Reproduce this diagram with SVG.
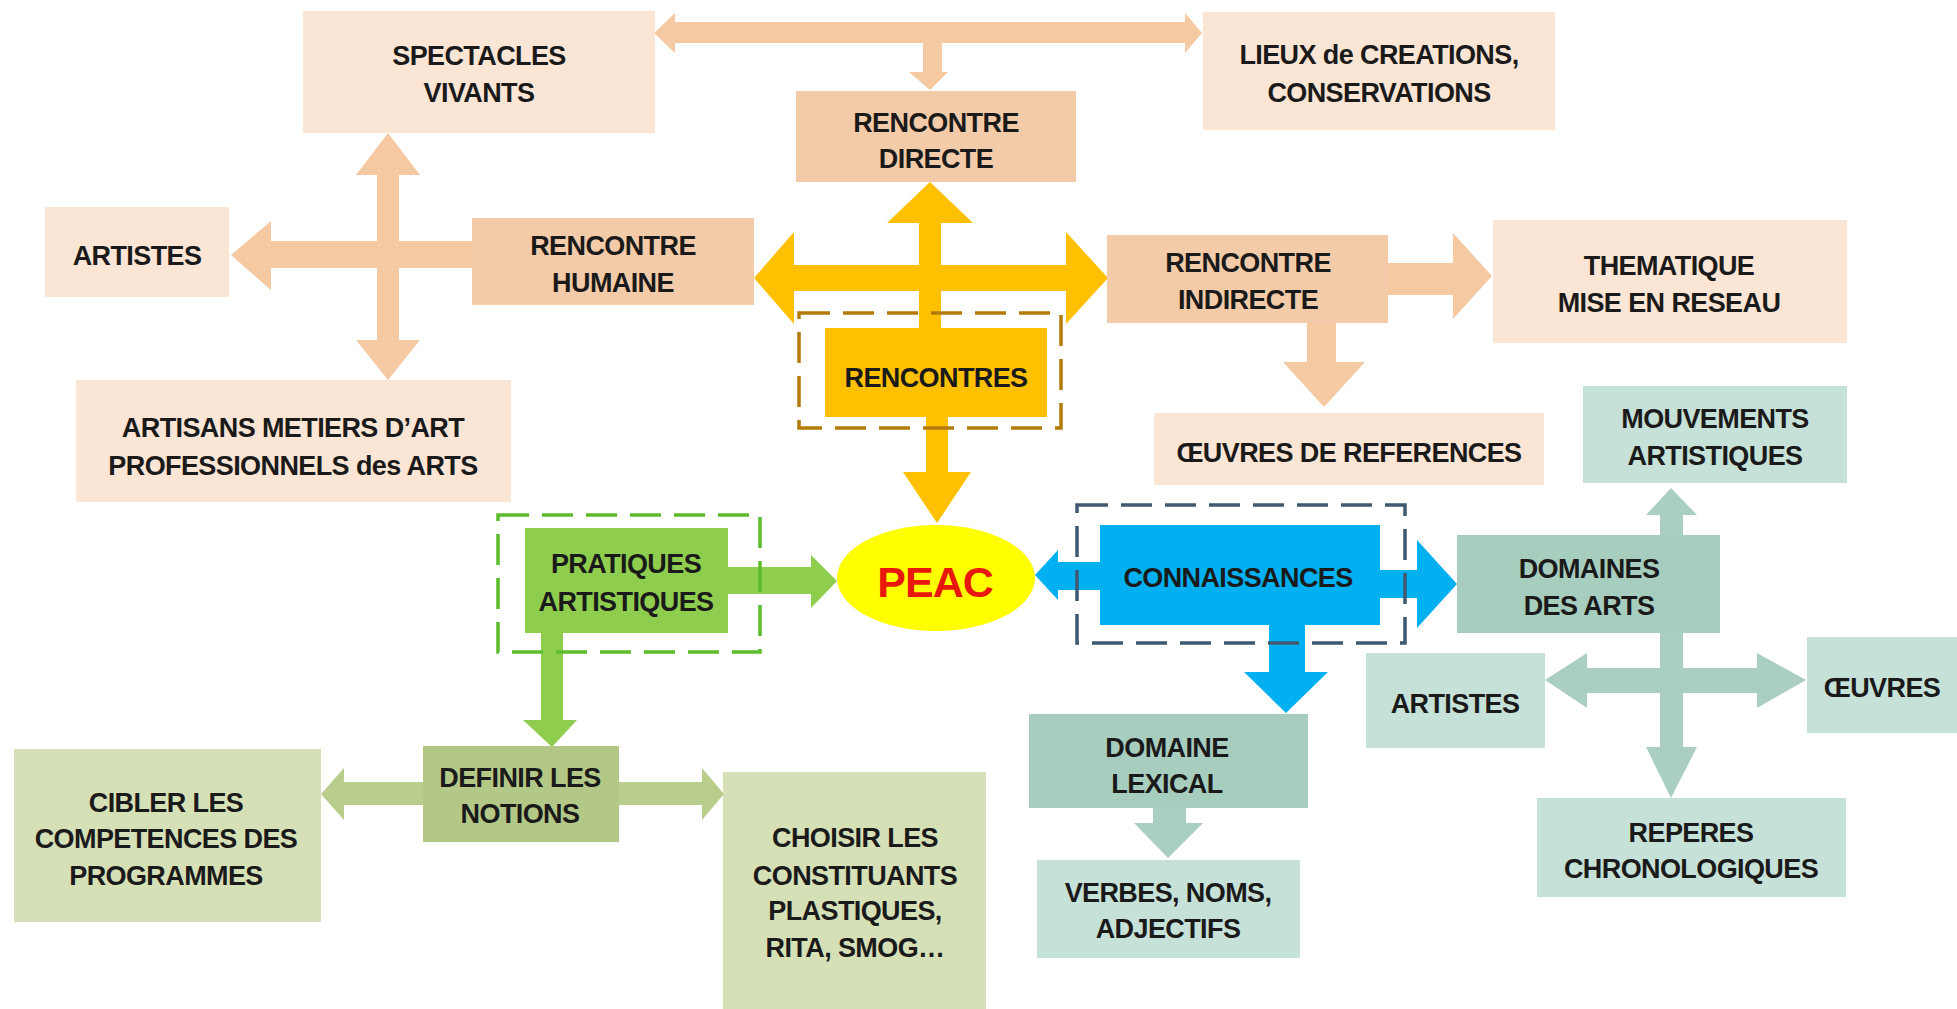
<svg xmlns="http://www.w3.org/2000/svg" width="1957" height="1009" viewBox="0 0 1957 1009">
<style>
.t{font-family:"Liberation Sans",Arial,sans-serif;font-weight:bold;font-size:27px;letter-spacing:-0.6px;text-anchor:middle;fill:#1a1a1a}
.pk{fill:#FBE5D4}.pd{fill:#F4CBA8}.pa{fill:#F5C9A1}
.yo{fill:#FFC000}
.gr{fill:#8FCD4E}.ol{fill:#B3C886}.oa{fill:#B9CD8C}.ll{fill:#D6E0B7}
.tl{fill:#A7CDBF}.tt{fill:#C6E1D7}.ta{fill:#AACFC2}
.bl{fill:#00B0F0}
.dash{fill:none;stroke-width:3.5;stroke-dasharray:31 13}
</style>
<rect width="1957" height="1009" fill="#ffffff"/>
<g id="connectors">
<polygon class="pa" points="654,33 675,13 675,22 1185,22 1185,13 1202,33 1185,53 1185,43 675,43 675,53"/>
<polygon class="pa" points="923,42 942,42 942,72 948,72 930,90 909,72 923,72"/>
<polygon class="pa" points="388,133 420,175 399,175 399,340 420,340 388,380 356,340 377,340 377,175 356,175"/>
<polygon class="pa" points="231,255 271,221 271,241 474,241 474,268 271,268 271,290"/>
<polygon class="pa" points="1386,263 1453,263 1453,233 1492,276 1453,319 1453,295 1386,295"/>
<polygon class="pa" points="1307,321 1336,321 1336,362 1365,362 1324,407 1283,362 1307,362"/>
<polygon class="yo" points="930,182 973,223 941,223 941,330 919,330 919,223 887,223"/>
<polygon class="yo" points="754,278 794,232 794,265 1066,265 1066,232 1108,278 1066,324 1066,291 794,291 794,324"/>
<polygon class="yo" points="926,415 948,415 948,472 971,472 937,523 903,472 926,472"/>
<polygon class="gr" points="726,567 811,567 811,555 837,581 811,608 811,594 726,594"/>
<polygon class="gr" points="541,631 563,631 563,720 577,720 552,747 523,720 541,720"/>
<polygon class="oa" points="321,794 344,768 344,782 702,782 702,768 724,794 702,820 702,805 344,805 344,820"/>
<polygon class="bl" points="1035,575 1058,550 1058,562 1102,562 1102,590 1058,590 1058,600"/>
<polygon class="bl" points="1378,570 1417,570 1417,540 1457,584 1417,628 1417,598 1378,598"/>
<polygon class="bl" points="1269,623 1305,623 1305,672 1328,672 1286,713 1244,672 1269,672"/>
<polygon class="ta" points="1153,806 1186,806 1186,823 1203,823 1168,858 1134,823 1153,823"/>
<polygon class="ta" points="1671,488 1697,515 1683,515 1683,747 1697,747 1671,798 1646,747 1660,747 1660,515 1646,515"/>
<polygon class="ta" points="1545,680 1587,653 1587,668 1757,668 1757,653 1806,680 1757,708 1757,693 1587,693 1587,708"/>
</g>
<g id="spectacles"><rect class="pk" x="303" y="11" width="352" height="122"/><text class="t" x="479" y="65">SPECTACLES</text><text class="t" x="479" y="102">VIVANTS</text></g>
<g id="lieux"><rect class="pk" x="1203" y="12" width="352" height="118"/><text class="t" x="1379" y="64">LIEUX de CREATIONS,</text><text class="t" x="1379" y="102">CONSERVATIONS</text></g>
<g id="rencontre-directe"><rect class="pd" x="796" y="91" width="280" height="91"/><text class="t" x="936" y="132">RENCONTRE</text><text class="t" x="936" y="168">DIRECTE</text></g>
<g id="artistes-1"><rect class="pk" x="45" y="207" width="184" height="90"/><text class="t" x="137" y="265">ARTISTES</text></g>
<g id="rencontre-humaine"><rect class="pd" x="472" y="218" width="282" height="87"/><text class="t" x="613" y="255">RENCONTRE</text><text class="t" x="613" y="292">HUMAINE</text></g>
<g id="artisans"><rect class="pk" x="76" y="380" width="435" height="122"/><text class="t" x="293" y="437">ARTISANS METIERS D’ART</text><text class="t" x="293" y="475">PROFESSIONNELS des ARTS</text></g>
<g id="rencontre-indirecte"><rect class="pd" x="1107" y="235" width="281" height="88"/><text class="t" x="1248" y="272">RENCONTRE</text><text class="t" x="1248" y="309">INDIRECTE</text></g>
<g id="thematique"><rect class="pk" x="1493" y="220" width="354" height="123"/><text class="t" x="1669" y="275">THEMATIQUE</text><text class="t" x="1669" y="312">MISE EN RESEAU</text></g>
<g id="rencontres"><rect class="yo" x="825" y="328" width="222" height="89"/><text class="t" x="936" y="387">RENCONTRES</text><rect class="dash" x="799" y="313" width="262" height="115" stroke="#B47B0A"/></g>
<g id="oeuvres-ref"><rect class="pk" x="1154" y="413" width="390" height="72"/><text class="t" x="1349" y="462">ŒUVRES DE REFERENCES</text></g>
<g id="mouvements"><rect class="tt" x="1583" y="386" width="264" height="97"/><text class="t" x="1715" y="428">MOUVEMENTS</text><text class="t" x="1715" y="465">ARTISTIQUES</text></g>
<g id="pratiques"><rect class="gr" x="525" y="528" width="203" height="105"/><text class="t" x="626" y="573">PRATIQUES</text><text class="t" x="626" y="611">ARTISTIQUES</text><rect class="dash" x="498" y="515" width="262" height="137" stroke="#5BBD2B"/></g>
<g id="peac"><ellipse cx="936" cy="578" rx="99" ry="53" fill="#FFFF00"/><text x="935" y="597" font-family="Liberation Sans,Arial,sans-serif" font-weight="bold" font-size="43" text-anchor="middle" fill="#E8180C" letter-spacing="-1">PEAC</text></g>
<g id="connaissances"><rect class="bl" x="1100" y="525" width="280" height="100"/><text class="t" x="1238" y="587">CONNAISSANCES</text><rect class="dash" x="1077" y="505" width="328" height="138" stroke="#3F5970"/></g>
<g id="domaines-arts"><rect class="tl" x="1457" y="535" width="263" height="98"/><text class="t" x="1589" y="578">DOMAINES</text><text class="t" x="1589" y="615">DES ARTS</text></g>
<g id="definir"><rect class="ol" x="423" y="746" width="196" height="96"/><text class="t" x="520" y="787">DEFINIR LES</text><text class="t" x="520" y="823">NOTIONS</text></g>
<g id="cibler"><rect class="ll" x="14" y="749" width="307" height="173"/><text class="t" x="166" y="812">CIBLER LES</text><text class="t" x="166" y="848">COMPETENCES DES</text><text class="t" x="166" y="885">PROGRAMMES</text></g>
<g id="choisir"><rect class="ll" x="723" y="772" width="263" height="237"/><text class="t" x="855" y="847">CHOISIR LES</text><text class="t" x="855" y="885">CONSTITUANTS</text><text class="t" x="855" y="920">PLASTIQUES,</text><text class="t" x="855" y="957">RITA, SMOG…</text></g>
<g id="domaine-lexical"><rect class="tl" x="1029" y="714" width="279" height="94"/><text class="t" x="1167" y="757">DOMAINE</text><text class="t" x="1167" y="793">LEXICAL</text></g>
<g id="verbes"><rect class="tt" x="1037" y="860" width="263" height="98"/><text class="t" x="1168" y="902">VERBES, NOMS,</text><text class="t" x="1168" y="938">ADJECTIFS</text></g>
<g id="artistes-2"><rect class="tt" x="1366" y="653" width="179" height="95"/><text class="t" x="1455" y="713">ARTISTES</text></g>
<g id="oeuvres"><rect class="tt" x="1807" y="637" width="150" height="96"/><text class="t" x="1882" y="697">ŒUVRES</text></g>
<g id="reperes"><rect class="tt" x="1537" y="798" width="309" height="99"/><text class="t" x="1691" y="842">REPERES</text><text class="t" x="1691" y="878">CHRONOLOGIQUES</text></g>
</svg>
